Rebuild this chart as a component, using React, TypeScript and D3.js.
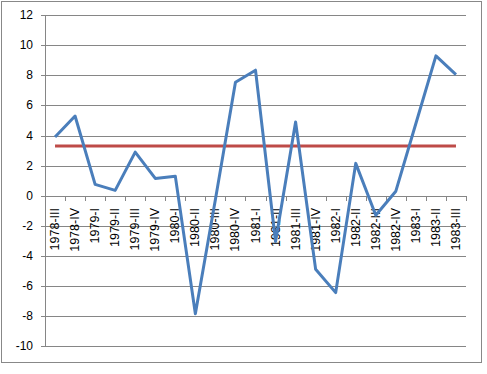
import React from "react";
import * as d3 from "d3";

const categories = ["1978-III","1978-IV","1979-I","1979-II","1979-III","1979-IV","1980-I","1980-II","1980-III","1980-IV","1981-I","1981-II","1981-III","1981-IV","1982-I","1982-II","1982-III","1982-IV","1983-I","1983-II","1983-III"];
const values = [3.9, 5.3, 0.75, 0.35, 2.9, 1.15, 1.3, -7.85, -0.25, 7.55, 8.35, -3.05, 4.9, -4.9, -6.45, 2.15, -1.3, 0.3, 4.8, 9.3, 8.05];
const refValue = 3.3;
const yTicks = [-10, -8, -6, -4, -2, 0, 2, 4, 6, 8, 10, 12];

const W = 487, H = 374;
const left = 45, right = 466, top = 15.3, bottom = 346;

export default function App() {
  const x = d3.scaleBand<string>().domain(categories).range([left, right]).padding(0);
  const y = d3.scaleLinear().domain([-10, 12]).range([bottom, top]);
  const cx = (c: string) => (x(c) as number) + x.bandwidth() / 2;
  const line = d3.line<number>().x((_, i) => cx(categories[i])).y((d) => y(d));
  const font = "'Liberation Sans', Arial, sans-serif";
  const boundaries = categories.map((c) => x(c) as number).concat([right]);
  return (
    <svg width={W} height={H} style={{ position: "absolute", left: 0, top: 0, background: "#fff" }}>
      <rect x={0} y={0} width={W} height={H} fill="#fff" />
      <rect x={1.5} y={1.5} width={480} height={361} fill="none" stroke="#888" strokeWidth={1} />
      {yTicks.map((t) => (
        <g key={t}>
          <line x1={left - 4} x2={right} y1={Math.round(y(t)) + 0.5} y2={Math.round(y(t)) + 0.5} stroke="#868686" strokeWidth={1} />
          <text x={33} y={y(t)} textAnchor="end" dominantBaseline="central" fontFamily={font} fontSize={12} fill="#000">{t}</text>
        </g>
      ))}
      <line x1={left + 0.5} x2={left + 0.5} y1={top} y2={bottom} stroke="#868686" strokeWidth={1} />
      {boundaries.map((b, i) => (
        <line key={i} x1={Math.round(b) + 0.5} x2={Math.round(b) + 0.5} y1={Math.round(y(0))} y2={Math.round(y(0)) + 5} stroke="#868686" strokeWidth={1} />
      ))}
      {categories.map((c) => (
        <text key={c} transform={`translate(${cx(c)},${208}) rotate(-90)`} textAnchor="end" dominantBaseline="central" fontFamily={font} fontSize={12.5} fill="#000">{c}</text>
      ))}
      <line x1={cx(categories[0])} x2={cx(categories[categories.length - 1])} y1={y(refValue)} y2={y(refValue)} stroke="#BE4B48" strokeWidth={3} />
      <path d={line(values) || ""} fill="none" stroke="#4A7EBB" strokeWidth={3} strokeLinejoin="round" />
    </svg>
  );
}
